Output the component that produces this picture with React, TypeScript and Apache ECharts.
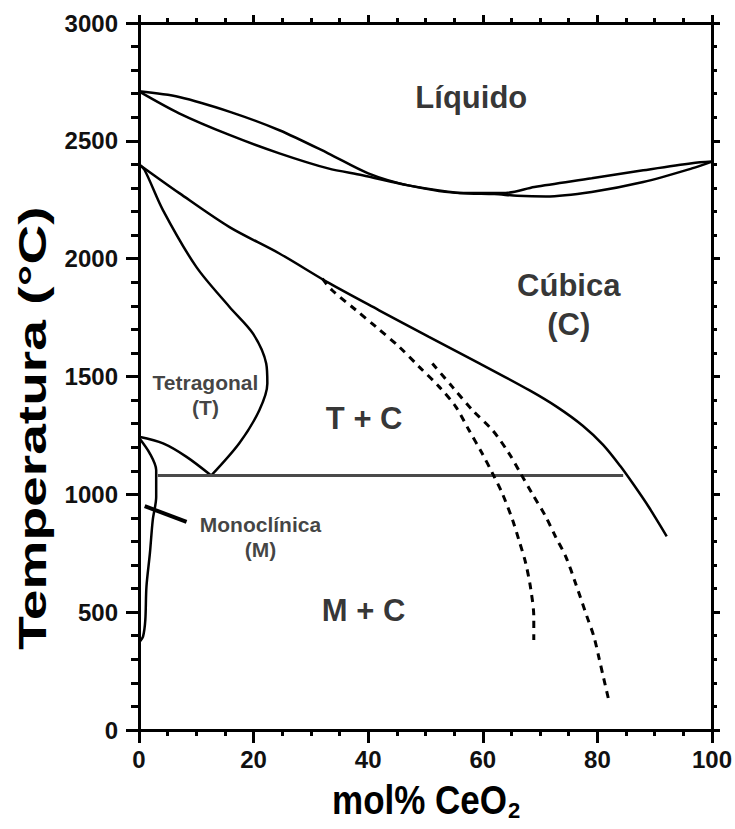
import { useEffect, useRef } from 'react';
import * as echarts from 'echarts';

const FONT = '"Liberation Sans", Arial, sans-serif';

const xTickValues = [0, 20, 40, 60, 80, 100];
const yTickValues = [0, 500, 1000, 1500, 2000, 2500, 3000];

// Liquidus (upper curve of the melting lens)
const liquidus: [number, number][] = [
  [0, 2710], [7, 2686], [16, 2622], [24.5, 2545], [33, 2447], [40, 2362],
  [47, 2311], [56, 2279], [64, 2279], [69, 2304], [79, 2341], [88, 2375],
  [96.5, 2405], [100, 2412],
];
// Solidus (lower curve of the melting lens)
const solidus: [number, number][] = [
  [0, 2710], [7, 2617], [16, 2523], [24.5, 2447], [33, 2383], [39, 2354],
  [47, 2311], [56, 2279], [62, 2274], [66, 2267], [71, 2264], [79, 2283],
  [88, 2325], [96.5, 2383], [100, 2412],
];
// Cubic / (T + C) boundary
const cubicBoundary: [number, number][] = [
  [0, 2400], [7.1, 2277], [15.8, 2134], [24.5, 2022], [33.2, 1896], [41.9, 1781],
  [50.6, 1668], [59.4, 1556], [68.1, 1442], [73, 1370], [77.5, 1290], [81, 1210],
  [84, 1120], [86.5, 1035], [89, 945], [92.1, 822],
];
// Tetragonal / (T + C) boundary
const tetragonalBoundary: [number, number][] = [
  [0, 2400], [1, 2375], [4.2, 2205], [10, 1965], [15.8, 1795], [19.9, 1682],
  [22.2, 1555], [22.4, 1470], [21, 1357], [17.5, 1217], [12.6, 1080],
];
// Monoclinic / tetragonal boundary
const mtBoundary: [number, number][] = [
  [0, 1244], [4.2, 1216], [8.3, 1159], [12.6, 1080],
];
// Monoclinic solubility limit
const monoclinicBoundary: [number, number][] = [
  [0, 1240], [1.9, 1173], [3.0, 1103], [3.0, 989], [2.4, 891], [1.9, 749],
  [1.3, 608], [1.1, 466], [0.7, 396], [0.1, 374],
];
// Eutectoid isotherm
const eutectoid: [number, number][] = [[3.3, 1080], [84.5, 1080]];
// Metastable dashed curves
const dashedA: [number, number][] = [
  [32, 1915], [33.7, 1866], [37.9, 1781], [41.4, 1710], [45.4, 1626], [48.9, 1541],
  [52.4, 1456], [55.3, 1371], [57.6, 1272], [59.9, 1173], [61.7, 1089],
  [63.4, 1004], [65.2, 891], [66.3, 806], [67.5, 707], [68.4, 594], [68.9, 480],
  [68.9, 382],
];
const dashedB: [number, number][] = [
  [51.2, 1555], [54.7, 1456], [58.2, 1357], [61.7, 1272], [64.6, 1173],
  [66.6, 1089], [68.6, 1004], [71.0, 905], [72.7, 820], [74.5, 735], [76.2, 622],
  [78.2, 480], [79.4, 396], [80.3, 304], [81.1, 219], [82.0, 125],
];
// Pointer from the "Monoclínica" label
const pointer: [number, number][] = [[1.0, 950], [8.3, 883]];

const bigLabels = [
  { name: 'Líquido', value: [58, 2684] },
  { name: 'Cúbica\n(C)', value: [75, 1805] },
  { name: 'T + C', value: [39.3, 1323] },
  { name: 'M + C', value: [39.2, 505] },
];
const smallLabels = [
  { name: 'Tetragonal\n(T)', value: [11.6, 1423] },
  { name: 'Monoclínica\n(M)', value: [21.2, 820] },
];

const solid = (data: [number, number][], width = 2.5, color = '#000') => ({
  type: 'line',
  data,
  symbol: 'none',
  smooth: 0.3,
  silent: true,
  lineStyle: { color, width },
});

export default function App() {
  const ref = useRef<HTMLDivElement>(null);
  useEffect(() => {
    document.body.style.margin = '0';
    const chart = echarts.init(ref.current!, null, { renderer: 'svg' });
    const axisLine = { show: true, onZero: false, lineStyle: { color: '#000', width: 3 } };
    const labelStyle = { fontFamily: FONT, fontWeight: 'bold', fontSize: 24, color: '#111' };
    const option: any = {
      animation: false,
      backgroundColor: '#fff',
      grid: { left: 139, right: 22, top: 23, bottom: 99, containLabel: false },
      xAxis: [
        {
          type: 'value', min: 0, max: 100, interval: 20, position: 'bottom',
          axisLine,
          axisTick: { show: true, length: 13, lineStyle: { color: '#000', width: 3 } },
          minorTick: { show: true, splitNumber: 4, length: 6, lineStyle: { color: '#000', width: 3 } },
          splitLine: { show: false },
          axisLabel: {
            ...labelStyle, margin: 17,
            formatter: (v: number) => (xTickValues.includes(v) ? String(v) : ''),
          },
        },
        {
          type: 'value', min: 0, max: 100, interval: 20, position: 'top',
          axisLine,
          axisTick: { show: true, length: 8, lineStyle: { color: '#000', width: 3 } },
          minorTick: { show: true, splitNumber: 4, length: 5, lineStyle: { color: '#000', width: 3 } },
          splitLine: { show: false },
          axisLabel: { show: false },
        },
      ],
      yAxis: [
        {
          type: 'value', min: 0, max: 3000, interval: 500, position: 'left',
          axisLine,
          axisTick: { show: true, length: 13, lineStyle: { color: '#000', width: 3 } },
          minorTick: { show: true, splitNumber: 5, length: 8, lineStyle: { color: '#000', width: 3 } },
          splitLine: { show: false },
          axisLabel: {
            ...labelStyle, margin: 21,
            formatter: (v: number) => (yTickValues.includes(v) ? String(v) : ''),
          },
        },
        {
          type: 'value', min: 0, max: 3000, interval: 500, position: 'right',
          axisLine,
          axisTick: { show: true, length: 8, lineStyle: { color: '#000', width: 3 } },
          minorTick: { show: true, splitNumber: 5, length: 5, lineStyle: { color: '#000', width: 3 } },
          splitLine: { show: false },
          axisLabel: { show: false },
        },
      ],
      series: [
        solid(liquidus),
        solid(solidus),
        solid(cubicBoundary),
        solid(tetragonalBoundary),
        solid(mtBoundary),
        solid(monoclinicBoundary),
        { ...solid(eutectoid, 3, '#4a4a4a'), smooth: false },
        {
          ...solid(dashedA),
          lineStyle: { color: '#000', width: 3, type: [7, 6] },
        },
        {
          ...solid(dashedB),
          lineStyle: { color: '#000', width: 3, type: [7, 6] },
        },
        { ...solid(pointer, 4), smooth: false },
        {
          type: 'scatter', data: bigLabels, symbolSize: 1, silent: true,
          itemStyle: { color: 'rgba(0,0,0,0)' },
          label: {
            show: true, position: 'inside', formatter: '{b}',
            fontFamily: FONT, fontWeight: 'bold', fontSize: 31, lineHeight: 39,
            color: '#000', align: 'center', verticalAlign: 'middle',
          },
        },
        {
          type: 'scatter', data: smallLabels, symbolSize: 1, silent: true,
          itemStyle: { color: 'rgba(0,0,0,0)' },
          label: {
            show: true, position: 'inside', formatter: '{b}',
            fontFamily: FONT, fontWeight: 'bold', fontSize: 21, lineHeight: 25,
            color: '#111', align: 'center', verticalAlign: 'middle',
          },
        },
      ],
      graphic: [
        {
          type: 'text', x: 33, y: 428, rotation: Math.PI / 2, scaleX: 1.45, silent: true,
          style: {
            text: 'Temperatura (°C)', fontFamily: FONT, fontWeight: 'bold', fontSize: 38,
            fill: '#000', align: 'center', verticalAlign: 'middle',
          },
        },
        {
          type: 'text', x: 507, y: 800, scaleY: 1.15, silent: true,
          style: {
            text: 'mol% CeO', fontFamily: FONT, fontWeight: 'bold', fontSize: 35,
            fill: '#000', align: 'right', verticalAlign: 'middle',
          },
        },
        {
          type: 'text', x: 508, y: 810, silent: true,
          style: {
            text: '2', fontFamily: FONT, fontWeight: 'bold', fontSize: 22,
            fill: '#000', align: 'left', verticalAlign: 'middle',
          },
        },
      ],
    };
    chart.setOption(option);
    return () => chart.dispose();
  }, []);
  return <div ref={ref} style={{ width: 735, height: 829 }} />;
}
